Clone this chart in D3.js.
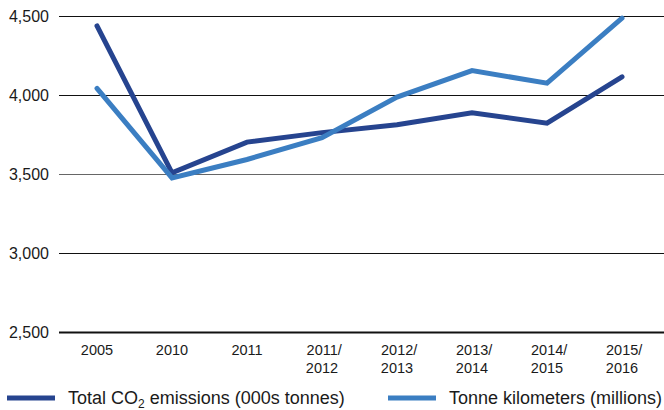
<!DOCTYPE html>
<html>
<head>
<meta charset="utf-8">
<script src="https://cdn.jsdelivr.net/npm/d3@7"></script>
<style>
  body { margin: 0; background: #fff; }
  svg text { font-family: "Liberation Sans", Arial, sans-serif; fill: #1a1a1a; }
</style>
</head>
<body>
<div id="chart"></div>
<script>
// data
var years = ["2005", "2010", "2011", "2011/2012", "2012/2013", "2013/2014", "2014/2015", "2015/2016"];
var co2 = [4440, 3510, 3705, 3765, 3815, 3890, 3825, 4118];
var tonneKm = [4045, 3478, 3595, 3733, 3990, 4158, 4078, 4490];
var yTicks = [2500, 3000, 3500, 4000, 4500];

var seriesNames = ["Total CO2 emissions (000s tonnes)", "Tonne kilometers (millions)"];
var colours = ["#26448f", "#3b7ec2"];

var W = 664, H = 410;

var svg = d3.select("#chart").append("svg")
  .attr("width", W)
  .attr("height", H);

var x = d3.scalePoint()
  .domain(years)
  .range([59.5, 659.5])
  .padding(0.5);

var y = d3.scaleLinear()
  .domain([2500, 4500])
  .range([332.5, 16.5]);

// gridlines
svg.append("g").selectAll("line")
  .data(yTicks)
  .enter().append("line")
  .attr("x1", 59)
  .attr("x2", W)
  .attr("y1", function(d) { return y(d); })
  .attr("y2", function(d) { return y(d); })
  .attr("stroke", function(d) { return d == 3500 ? "#666" : "#111"; })
  .attr("stroke-width", function(d) { return d == 2500 ? 2 : 1.2; });

// y labels
svg.append("g").selectAll("text")
  .data(yTicks)
  .enter().append("text")
  .attr("x", 49)
  .attr("y", function(d) { return y(d); })
  .attr("dy", "0.36em")
  .attr("text-anchor", "end")
  .style("font-size", "16px")
  .text(function(d) { return d3.format(",")(d); });

// x labels (split on slash)
var xl = svg.append("g").selectAll("text")
  .data(years)
  .enter().append("text")
  .attr("x", function(d) { return x(d); })
  .attr("y", 355)
  .attr("text-anchor", "middle")
  .style("font-size", "14.5px");

xl.each(function(d) {
  var parts = d.split("/");
  var t = d3.select(this);
  if (parts.length == 1) {
    t.text(d);
  } else {
    t.append("tspan").attr("x", x(d)).attr("dx", "0.15em").text(parts[0] + "/");
    t.append("tspan").attr("x", x(d)).attr("dy", 18).text(parts[1]);
  }
});

// lines
var line = d3.line()
  .x(function(d, i) { return x(years[i]); })
  .y(function(d) { return y(d); });

[co2, tonneKm].forEach(function(s, i) {
  svg.append("path")
    .datum(s)
    .attr("fill", "none")
    .attr("stroke", colours[i])
    .attr("stroke-width", 5)
    .attr("stroke-linecap", "round")
    .attr("stroke-linejoin", "miter")
    .attr("d", line);
});

// legend
var legX = [7, 388];
var leg = svg.append("g").selectAll("g")
  .data(seriesNames)
  .enter().append("g")
  .attr("transform", function(d, i) { return "translate(" + legX[i] + ",398)"; });

leg.append("line")
  .attr("x1", 0).attr("x2", 48)
  .attr("y1", 0).attr("y2", 0)
  .attr("stroke", function(d, i) { return colours[i]; })
  .attr("stroke-width", 5);

leg.append("text")
  .attr("x", 61)
  .attr("y", 6)
  .style("font-size", "18px")
  .each(function(d, i) {
    var t = d3.select(this);
    if (i == 0) {
      t.append("tspan").text("Total CO");
      t.append("tspan").attr("dy", 4).style("font-size", "12px").text("2");
      t.append("tspan").attr("dy", -4).text(" emissions (000s tonnes)");
    } else {
      t.text(d);
    }
  });
</script>
</body>
</html>
